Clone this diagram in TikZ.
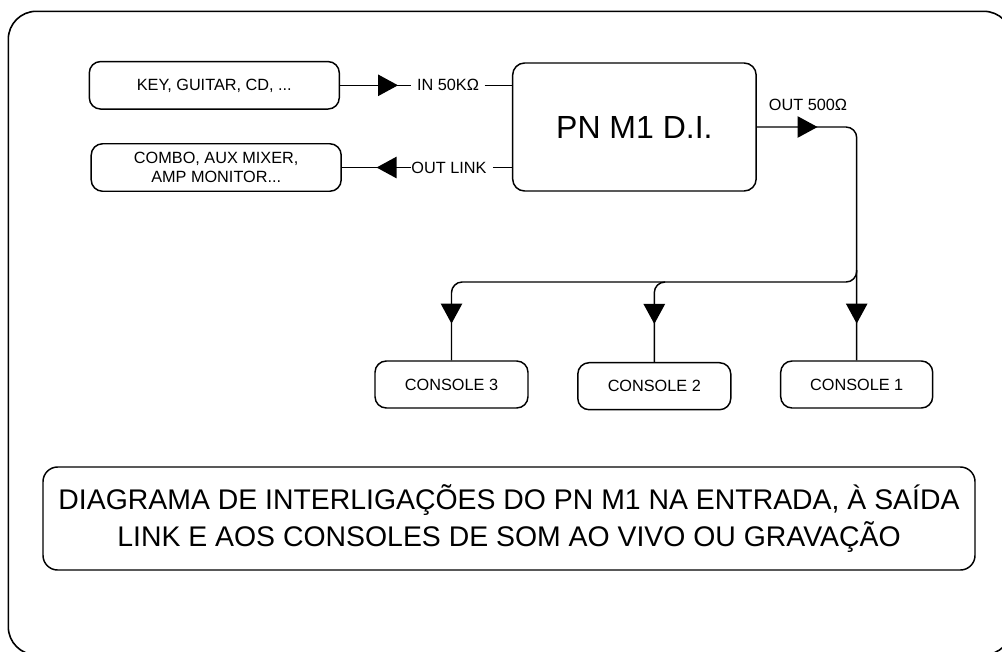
\documentclass[tikz,border=0pt]{standalone}
\usepackage{fontspec}
\setmainfont{Liberation Sans}
\usetikzlibrary{arrows.meta,decorations.markings}
\tikzset{
  x=0.75pt,y=-0.75pt,
  rbox/.style={draw=black,rounded corners=8.5pt,line width=1.1pt,align=center,inner sep=0pt,font=\fontsize{12.2}{14.7}\selectfont},
  lbl/.style={inner sep=0pt,font=\fontsize{12.2}{14}\selectfont},
  wire/.style={draw=black,line width=1.1pt},
  tipat/.style={postaction={decorate,decoration={markings,mark=at position #1 with {\arrow{Triangle[length=15pt,width=16pt]}}}}},
}
\begin{document}
\begin{tikzpicture}
\useasboundingbox (0,0) rectangle (1002,651);
\begin{scope}
\clip (0,0) rectangle (1002,651);
\node[draw=black,line width=1.2pt,rounded corners=21pt,minimum width=1003.5*0.75pt,minimum height=643.5*0.75pt,inner sep=0pt,anchor=north west] (frame) at (7.5,10.5) {};
\end{scope}
\node[rbox,minimum width=250*0.75pt,minimum height=47.5*0.75pt,text depth=0pt] (key) at (214.3,85.3) {KEY, GUITAR, CD, ...};
\node[rbox,minimum width=250*0.75pt,minimum height=47.5*0.75pt] (combo) at (216.2,167.5) {COMBO, AUX MIXER,\\AMP MONITOR...};
\node[rbox,rounded corners=9pt,minimum width=243.5*0.75pt,minimum height=128*0.75pt,font=\fontsize{24}{28}\selectfont,text depth=0pt] (pn) at (634.4,127) {PN M1 D.I.};
\node[rbox,minimum width=153*0.75pt,minimum height=47*0.75pt] (c3) at (451.5,384.5) {CONSOLE 3};
\node[rbox,minimum width=153*0.75pt,minimum height=47*0.75pt] (c2) at (654.3,386.2) {CONSOLE 2};
\node[rbox,minimum width=152*0.75pt,minimum height=47*0.75pt] (c1) at (856.7,384.5) {CONSOLE 1};
\node[rbox,rounded corners=11pt,minimum width=932*0.75pt,minimum height=103*0.75pt,font=\fontsize{21.3}{28.3}\selectfont] (caption) at (509,518.5) {DIAGRAMA DE INTERLIGAÇÕES DO PN M1 NA ENTRADA, À SAÍDA\\LINK E AOS CONSOLES DE SOM AO VIVO OU GRAVAÇÃO};
\node[lbl] (in) at (448,85.3) {IN 50KΩ};
\node[lbl] (link) at (449,167.5) {OUT LINK};
\node[lbl] (out) at (808,105) {OUT 500Ω};
\coordinate (split) at (856.7,270);
\coordinate (busr) at (856.7,282);
\coordinate (busc) at (665,282);
\coordinate (bend2) at (654.3,282);
\coordinate (bend3) at (451.5,282);
\coordinate (inl) at ([xshift=-4.5pt]in.west);
\coordinate (inr) at ([xshift=4pt]in.east);
\coordinate (linkr) at ([xshift=4.5pt]link.east);
\path[wire,tipat=43.5pt] (key.east) -- (inl);
\draw[wire] (inr) -- (inr -| pn.west);
\path[wire,tipat=26pt] (link.west) -- (combo.east);
\draw[wire] (linkr) -- (linkr -| pn.west);
\path[wire,rounded corners=8pt,tipat=45.5pt,tipat=-27.5pt] (pn.east) -- (pn.east -| c1.north) -- (c1.north);
\path[wire,rounded corners=8pt,tipat=-27.5pt] (split) -- (busr) -- (bend3) -- (c3.north);
\path[wire,rounded corners=8pt,tipat=-28.5pt] (busc) -- (bend2) -- (c2.north);
\end{tikzpicture}
\end{document}
